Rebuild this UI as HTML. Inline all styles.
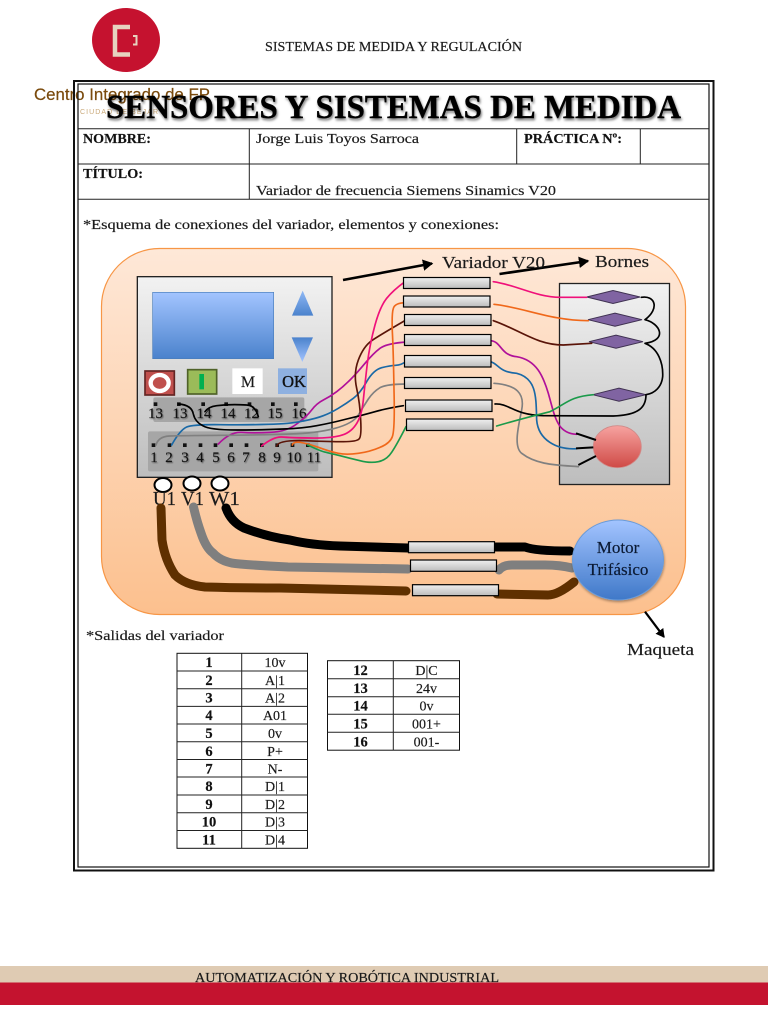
<!DOCTYPE html>
<html lang="es">
<head>
<meta charset="utf-8">
<title>Sensores y sistemas de medida</title>
<style>
html,body{margin:0;padding:0;background:#fff;width:768px;height:1024px;overflow:hidden}
svg{display:block}
text{font-family:"Liberation Serif",serif;fill:#1a1a1a;stroke:#1a1a1a;stroke-width:.18px}
.b{font-weight:bold;fill:#111}
.w{fill:none;stroke-linecap:round;stroke-linejoin:round;stroke-width:5}
.t{fill:none;stroke-linecap:round;stroke-linejoin:round;stroke-width:9}
.box{fill:url(#gBox);stroke:#000;stroke-width:1.2}
.dia{fill:#8064a2;stroke:#3f3151;stroke-width:1}
.dot{fill:#111}
.lab{font-size:15px;text-anchor:middle;fill:#111;filter:drop-shadow(1px 1px .6px rgba(0,0,0,.4))}
.c{text-anchor:middle;font-size:14px}
.cb{text-anchor:middle;font-size:14.5px;font-weight:bold;fill:#111}
.ln{stroke:#222;stroke-width:1;fill:none}
</style>
</head>
<body>
<svg xmlns="http://www.w3.org/2000/svg" width="768" height="1024" viewBox="0 0 768 1024">
<defs>
<linearGradient id="gBg" x1="0" y1="0" x2="0" y2="1"><stop offset="0" stop-color="#fee8d8"/><stop offset="1" stop-color="#fcc08e"/></linearGradient>
<linearGradient id="gPanel" x1="0" y1="0" x2="0" y2="1"><stop offset="0" stop-color="#f2f2f2"/><stop offset="1" stop-color="#bdbdbd"/></linearGradient>
<linearGradient id="gBlue" x1="0" y1="0" x2="0" y2="1"><stop offset="0" stop-color="#a3c4ff"/><stop offset="1" stop-color="#4a82cc"/></linearGradient>
<linearGradient id="gBlueUp" x1="0" y1="0" x2="0" y2="1"><stop offset="0" stop-color="#8fb8f5"/><stop offset="1" stop-color="#4a82cc"/></linearGradient>
<linearGradient id="gBlueDn" x1="0" y1="0" x2="0" y2="1"><stop offset="0" stop-color="#4a82cc"/><stop offset="1" stop-color="#a3c4ff"/></linearGradient>
<linearGradient id="gBox" x1="0" y1="0" x2="0" y2="1"><stop offset="0" stop-color="#f0f0f0"/><stop offset="1" stop-color="#bcbcbc"/></linearGradient>
<linearGradient id="gRed" x1="0" y1="0" x2="0" y2="1"><stop offset="0" stop-color="#f7a3a0"/><stop offset="1" stop-color="#cf4a46"/></linearGradient>
<linearGradient id="gMotor" x1="0" y1="0" x2="0" y2="1"><stop offset="0" stop-color="#a3c4ff"/><stop offset="1" stop-color="#3f78c8"/></linearGradient>
<filter id="sh" x="-10%" y="-10%" width="120%" height="125%"><feDropShadow dx="0.5" dy="1.5" stdDeviation="1.2" flood-color="#000" flood-opacity=".35"/></filter>
<marker id="ah" markerWidth="5" markerHeight="5" refX="3.5" refY="2.5" orient="auto" markerUnits="strokeWidth"><path d="M0 0.3L4 2.5L0 4.7z" fill="#000"/></marker>
</defs>

<!-- Logo -->
<ellipse cx="126" cy="40" rx="34" ry="32" fill="#c5122f"/>
<path d="M130 27H115V54.500H130" fill="none" stroke="#e6d3bf" stroke-width="4.500"/>
<path d="M133 36H136.500V44.500H133" fill="none" stroke="#e6d3bf" stroke-width="2"/>
<text x="34" y="100" font-size="16.500" textLength="176" lengthAdjust="spacingAndGlyphs" style="font-family:'Liberation Sans',sans-serif;fill:#7a4a0c;stroke:#7a4a0c">Centro Integrado de FP</text>
<text x="80" y="114" font-size="7" textLength="78" lengthAdjust="spacing" style="font-family:'Liberation Sans',sans-serif;fill:#c9a878;stroke:none">CIUDAD DE BÉJAR</text>

<!-- Header -->
<text x="265" y="51" font-size="13.500" textLength="257" lengthAdjust="spacingAndGlyphs">SISTEMAS DE MEDIDA Y REGULACIÓN</text>

<!-- Frame -->
<rect x="74" y="81" width="639.500" height="789.500" fill="none" stroke="#111" stroke-width="2"/>
<rect x="78" y="84" width="631" height="783" fill="none" stroke="#111" stroke-width="1.200"/>
<path class="ln" d="M78 128.700H709M78 164H709M78 199.300H709M249.300 128.700V199.300M516.700 128.700V164M640.300 128.700V164"/>

<text class="b" x="106" y="118" font-size="34" textLength="575" lengthAdjust="spacingAndGlyphs" style="fill:#000;stroke:#000;stroke-width:.4px;filter:drop-shadow(1px 2px 1.200px rgba(0,0,0,.55))">SENSORES Y SISTEMAS DE MEDIDA</text>
<text class="b" x="83" y="143" font-size="14" textLength="68" lengthAdjust="spacingAndGlyphs">NOMBRE:</text>
<text x="256" y="143" font-size="14" textLength="163" lengthAdjust="spacingAndGlyphs">Jorge Luis Toyos Sarroca</text>
<text class="b" x="524" y="143" font-size="14" textLength="98" lengthAdjust="spacingAndGlyphs">PRÁCTICA Nº:</text>
<text class="b" x="83" y="178" font-size="14" textLength="60" lengthAdjust="spacingAndGlyphs">TÍTULO:</text>
<text x="256" y="195" font-size="14" textLength="300" lengthAdjust="spacingAndGlyphs">Variador de frecuencia Siemens Sinamics V20</text>
<text x="83" y="229" font-size="14" textLength="416" lengthAdjust="spacingAndGlyphs">*Esquema de conexiones del variador, elementos y conexiones:</text>

<!-- Board background -->
<rect x="101.500" y="248.500" width="584" height="366" rx="58" ry="58" fill="url(#gBg)" stroke="#f79646" stroke-width="1.200"/>

<!-- Variador panel (3x coordinates) -->
<g transform="translate(130 270) scale(.33333)">
<rect x="22" y="20" width="584" height="602" fill="url(#gPanel)" stroke="#222" stroke-width="4"/>
<rect x="68" y="67" width="363" height="199" fill="url(#gBlue)" stroke="#4a7ebb" stroke-width="2"/>
<path d="M518 62L486 137H550Z" fill="url(#gBlueUp)"/>
<path d="M485 202H549L517 276Z" fill="url(#gBlueDn)"/>
<rect x="45" y="303" width="88" height="72" fill="#c0504d" stroke="#632523" stroke-width="5"/>
<ellipse cx="89" cy="339" rx="27" ry="24" fill="#c0504d" stroke="#fff" stroke-width="13"/>
<rect x="173" y="299" width="87" height="73" fill="#9bbb59" stroke="#4f6228" stroke-width="5"/>
<rect x="208" y="312" width="14" height="46" fill="#00b050"/>
<rect x="307" y="295" width="91" height="77" fill="#fff"/>
<rect x="444" y="295" width="87" height="77" fill="#8eb0e0"/>
<rect x="70" y="382" width="453" height="74" rx="6" fill="#a6a6a6"/>
<rect x="54" y="484" width="511" height="120" rx="6" fill="#a6a6a6"/>
<g class="dot">
<rect x="71" y="397" width="11" height="11"/><rect x="141" y="397" width="11" height="11"/><rect x="214" y="397" width="11" height="11"/><rect x="283" y="397" width="11" height="11"/><rect x="353" y="397" width="11" height="11"/><rect x="423" y="397" width="11" height="11"/><rect x="492" y="397" width="11" height="11"/>
<rect x="65" y="520" width="11" height="11"/><rect x="113" y="520" width="11" height="11"/><rect x="159" y="520" width="11" height="11"/><rect x="206" y="520" width="11" height="11"/><rect x="251" y="520" width="11" height="11"/><rect x="298" y="520" width="11" height="11"/><rect x="344" y="520" width="11" height="11"/><rect x="390" y="520" width="11" height="11"/><rect x="436" y="520" width="11" height="11"/><rect x="482" y="520" width="11" height="11"/><rect x="528" y="520" width="11" height="11"/>
</g>
</g>
<text x="248" y="387" font-size="16" text-anchor="middle">M</text>
<text x="294" y="387" font-size="16.500" text-anchor="middle" style="fill:#111;stroke:#111;stroke-width:.35px">OK</text>
<text class="lab" x="155.500" y="418">13</text><text class="lab" x="180" y="418">13</text><text class="lab" x="204" y="418">14</text><text class="lab" x="228" y="418">14</text><text class="lab" x="251.500" y="418">12</text><text class="lab" x="275" y="418">15</text><text class="lab" x="299" y="418">16</text>
<text class="lab" x="154" y="462">1</text><text class="lab" x="169" y="462">2</text><text class="lab" x="185" y="462">3</text><text class="lab" x="200" y="462">4</text><text class="lab" x="216" y="462">5</text><text class="lab" x="231" y="462">6</text><text class="lab" x="246" y="462">7</text><text class="lab" x="262" y="462">8</text><text class="lab" x="277" y="462">9</text><text class="lab" x="294" y="462">10</text><text class="lab" x="314" y="462">11</text>

<!-- Terminal U V W -->
<ellipse cx="163" cy="485" rx="8.500" ry="7" fill="#fff" stroke="#000" stroke-width="2"/>
<ellipse cx="192" cy="483.500" rx="8.500" ry="7" fill="#fff" stroke="#000" stroke-width="2"/>
<ellipse cx="220" cy="483.500" rx="8.500" ry="7" fill="#fff" stroke="#000" stroke-width="2"/>
<text x="153" y="505" font-size="20" textLength="23" lengthAdjust="spacingAndGlyphs">U1</text>
<text x="181" y="505" font-size="20" textLength="23" lengthAdjust="spacingAndGlyphs">V1</text>
<text x="209" y="505" font-size="20" textLength="31" lengthAdjust="spacingAndGlyphs">W1</text>

<!-- Bornes panel -->
<rect x="559.500" y="283.500" width="110" height="201" fill="url(#gPanel)" stroke="#222" stroke-width="1.300"/>
<path class="dia" d="M586.700 297L613 290.500L640 297L613 303.500Z"/>
<path class="dia" d="M588 319.700L615 313.200L642 319.700L615 326.200Z"/>
<path class="dia" d="M589 341.700L616 335.200L643 341.700L616 348.200Z"/>
<path class="dia" d="M592.700 394.700L619 388.200L646 394.700L619 401.200Z"/>
<ellipse cx="617.300" cy="446.700" rx="24" ry="21" fill="url(#gRed)" stroke="#d08a88" stroke-width=".8"/>

<!-- Wires (3x coordinates, origin 330,250) -->
<g transform="translate(330 250) scale(.33333)">
<path class="w" stroke="#b0109a" d="M-335 582Q-300 545 -265 547Q-230 550 -180 547Q-130 545 -100 522Q-70 500 -55 480Q-40 460 -20 450Q0 440 20 425Q40 410 60 390Q80 370 105 340Q130 310 150 295Q170 280 230 276"/>
<path class="w" stroke="#1a69a6" d="M-475 585Q-450 540 -430 531Q-410 523 -330 524Q-250 525 -185 523Q-120 522 -80 513Q-40 505 -20 497Q0 490 25 475Q50 460 70 445Q90 430 110 395Q130 360 155 353Q180 347 197 346Q215 345 230 333"/>
<path class="w" stroke="#808080" d="M-522 585Q-515 560 -482 558Q-450 557 -325 556Q-200 555 -120 552Q-40 550 15 535Q70 520 85 495Q100 470 115 447Q130 425 150 413Q170 402 230 402"/>
<path class="w" stroke="#000" d="M-454 462Q-415 465 -410 492Q-405 515 -382 527Q-360 540 -280 540Q-200 540 -140 537Q-80 535 -40 527Q0 520 50 507Q100 495 135 485Q170 475 220 467"/>
<path class="w" stroke="#000" d="M-375 485Q-365 470 -340 467Q-300 462 -250 465Q-225 465 -215 500"/>
<path class="w" stroke="#5a1408" d="M-160 588Q-155 570 -77 572Q0 575 40 575Q80 575 87 567Q95 560 92 510Q90 460 80 415Q70 370 85 330Q100 290 125 272Q150 255 228 210"/>
<path class="w" stroke="#f0681a" d="M-113 585Q-110 575 -90 577Q-70 580 -35 592Q0 605 25 610Q50 615 85 610Q120 605 150 592Q180 580 187 560Q195 540 192 420Q190 300 187 245Q185 190 190 175Q195 158 228 158"/>
<path class="w" stroke="#1a9a4a" d="M-67 585Q-25 605 -12 607Q0 610 30 617Q60 625 90 632Q120 640 145 635Q170 630 185 607Q200 585 228 530"/>
<path class="w" stroke="#f0107a" d="M-205 588Q-170 560 -145 561Q-120 563 -60 564Q0 565 30 557Q60 550 77 525Q95 500 100 450Q105 400 112 340Q120 280 135 225Q150 170 170 145Q190 120 225 95"/>
<path class="w" stroke="#f0107a" d="M490 95C560 105 620 142 690 142L770 142"/>
<path class="w" stroke="#f0681a" d="M492 163C580 172 660 212 775 212"/>
<path class="w" stroke="#5a1408" d="M490 212C570 240 620 285 700 285L785 280"/>
<path class="w" stroke="#b0109a" d="M482 272C515 275 510 315 560 320C620 330 640 380 655 430C675 500 680 550 740 553"/>
<path class="w" stroke="#1a69a6" d="M472 332C510 340 500 365 560 370C620 385 618 440 620 510C625 570 680 600 740 596"/>
<path class="w" stroke="#808080" d="M492 400C560 405 585 430 575 480C565 530 550 590 575 610C620 645 680 645 745 650"/>
<path class="w" stroke="#000" d="M495 462C540 460 550 495 640 497L850 498C930 495 948 470 948 434"/>
<path class="w" stroke="#1a9a4a" d="M500 528C560 510 620 495 660 485C710 460 720 440 790 434"/>
<path class="w" stroke="#000" d="M934 142C975 135 990 175 945 209C990 220 1015 270 945 280C985 295 1000 340 998 380C995 410 975 430 948 434"/>
<path d="M738 550L798 570M738 595L790 592M745 645L798 618" stroke="#000" stroke-width="6" fill="none"/>
</g>

<!-- Upper terminal boxes -->
<rect class="box" x="403.500" y="277.500" width="86.500" height="11"/>
<rect class="box" x="403.500" y="296" width="86.500" height="11"/>
<rect class="box" x="404.500" y="314.500" width="86.500" height="11"/>
<rect class="box" x="404.500" y="334.500" width="86.500" height="11"/>
<rect class="box" x="404.500" y="355.500" width="86.500" height="11.500"/>
<rect class="box" x="404.500" y="377.500" width="86.500" height="11"/>
<rect class="box" x="405.500" y="400" width="86.500" height="11.500"/>
<rect class="box" x="406.500" y="419" width="86.500" height="11.500"/>

<!-- Thick motor wires -->
<g>
<path class="t" stroke="#000" d="M226 508Q231 522 244 528Q268 537 290 540Q311 545 340 546Q370 547 408 548"/>
<path class="t" stroke="#000" d="M495 547H525Q535 551 570 551"/>
<path class="t" stroke="#7f7f7f" d="M193.500 507Q197 522 201 533Q206 548 213 553Q222 563 240 564Q265 566 288 567L408 569"/>
<path class="t" stroke="#7f7f7f" d="M499 570Q503 565 512 565H545Q560 565 572 568"/>
<path class="t" stroke="#5f3000" d="M161 508L162 540Q165 560 175 575Q185 585 205 587Q240 588 280 588L406 591"/>
<path class="t" stroke="#5f3000" d="M497 594L548 595Q558 595 574 582"/>
</g>
<rect class="box" x="408.500" y="541.700" width="86" height="11"/>
<rect class="box" x="410.500" y="560" width="86" height="11.300"/>
<rect class="box" x="412.500" y="584.700" width="86" height="11"/>

<!-- Motor -->
<ellipse cx="618" cy="560" rx="45.500" ry="40" fill="url(#gMotor)" stroke="#6b9bd8" stroke-width="1" filter="url(#sh)"/>
<text x="618" y="553" font-size="17" text-anchor="middle" style="fill:#0b1a33;stroke:#0b1a33">Motor</text>
<text x="618" y="575" font-size="17" text-anchor="middle" style="fill:#0b1a33;stroke:#0b1a33">Trifásico</text>

<!-- Arrows and labels -->
<path d="M343 280L432 263.500" stroke="#000" stroke-width="2.600" marker-end="url(#ah)" fill="none"/>
<path d="M499.500 274L588 261" stroke="#000" stroke-width="2.600" marker-end="url(#ah)" fill="none"/>
<path d="M645 611.700L664 637" stroke="#000" stroke-width="2.200" marker-end="url(#ah)" fill="none"/>
<text x="442" y="268" font-size="17" textLength="103" lengthAdjust="spacingAndGlyphs">Variador V20</text>
<text x="595" y="267" font-size="17" textLength="54" lengthAdjust="spacingAndGlyphs">Bornes</text>
<text x="627" y="655" font-size="17" textLength="67" lengthAdjust="spacingAndGlyphs">Maqueta</text>

<text x="86" y="640" font-size="14" textLength="138" lengthAdjust="spacingAndGlyphs">*Salidas del variador</text>

<!-- Table 1 -->
<rect x="177" y="653.300" width="130.500" height="195" fill="#fff" stroke="#111" stroke-width="1"/>
<path class="ln" d="M241.700 653.300V848.300M177 671H307.500M177 688.700H307.500M177 706.400H307.500M177 724H307.500M177 741.700H307.500M177 759.500H307.500M177 777H307.500M177 795H307.500M177 812.700H307.500M177 830.500H307.500"/>
<g>
<text class="cb" x="209" y="667">1</text><text class="c" x="275" y="667">10v</text>
<text class="cb" x="209" y="685">2</text><text class="c" x="275" y="685">A|1</text>
<text class="cb" x="209" y="702.500">3</text><text class="c" x="275" y="702.500">A|2</text>
<text class="cb" x="209" y="720">4</text><text class="c" x="275" y="720">A01</text>
<text class="cb" x="209" y="738">5</text><text class="c" x="275" y="738">0v</text>
<text class="cb" x="209" y="756">6</text><text class="c" x="275" y="756">P+</text>
<text class="cb" x="209" y="773.500">7</text><text class="c" x="275" y="773.500">N-</text>
<text class="cb" x="209" y="791">8</text><text class="c" x="275" y="791">D|1</text>
<text class="cb" x="209" y="809">9</text><text class="c" x="275" y="809">D|2</text>
<text class="cb" x="209" y="826.500">10</text><text class="c" x="275" y="826.500">D|3</text>
<text class="cb" x="209" y="844.500">11</text><text class="c" x="275" y="844.500">D|4</text>
</g>

<!-- Table 2 -->
<rect x="327.500" y="660.700" width="132" height="89.500" fill="#fff" stroke="#111" stroke-width="1"/>
<path class="ln" d="M393.300 660.700V750.200M327.500 678.700H459.500M327.500 696.700H459.500M327.500 714.300H459.500M327.500 732.300H459.500"/>
<g>
<text class="cb" x="360.500" y="675">12</text><text class="c" x="426.500" y="675">D|C</text>
<text class="cb" x="360.500" y="693">13</text><text class="c" x="426.500" y="693">24v</text>
<text class="cb" x="360.500" y="710.500">14</text><text class="c" x="426.500" y="710.500">0v</text>
<text class="cb" x="360.500" y="728.500">15</text><text class="c" x="426.500" y="728.500">001+</text>
<text class="cb" x="360.500" y="746.500">16</text><text class="c" x="426.500" y="746.500">001-</text>
</g>

<!-- Footer -->
<rect x="0" y="966" width="768" height="16.500" fill="#dfcbb3"/>
<rect x="0" y="982.500" width="768" height="22.500" fill="#c4132f"/>
<text x="195" y="982" font-size="14" textLength="304" lengthAdjust="spacingAndGlyphs">AUTOMATIZACIÓN Y ROBÓTICA INDUSTRIAL</text>
</svg>
</body>
</html>
